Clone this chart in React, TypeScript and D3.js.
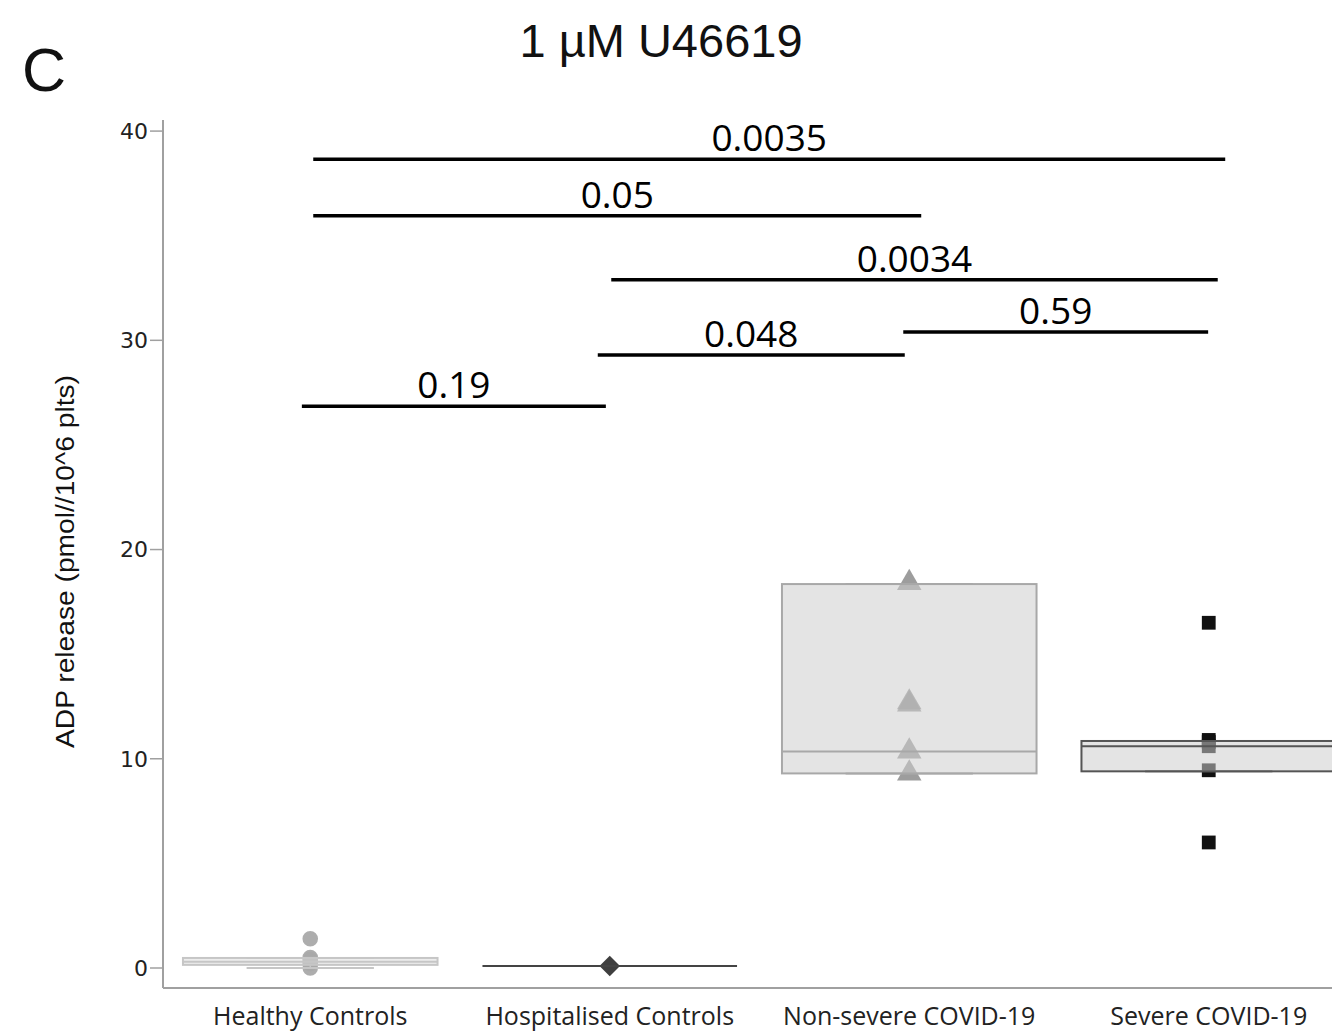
import React from "react";
import * as d3 from "d3";

const categories = ["Healthy Controls", "Hospitalised Controls", "Non-severe COVID-19", "Severe COVID-19"];
const healthyValues = [1.4, 0.5, 0.4, 0.3, 0.2, 0.0];
const hospitalisedValues = [0.1];
const nonSevereValues = [18.4, 12.7, 12.6, 10.35, 9.3];
const severeValues = [16.5, 10.9, 10.8, 10.6, 9.45, 6.0];

const boxQ1 = [0.15, 0.1, 9.3, 9.4];
const boxMedian = [0.3, 0.1, 10.35, 10.6];
const boxQ3 = [0.48, 0.1, 18.35, 10.85];
const whiskerLow = [0.0, 0.1, 9.3, 9.4];
const whiskerHigh = [0.48, 0.1, 18.35, 10.85];

const yTicks = [0, 10, 20, 30, 40];

// significance brackets: label, y value, start/end in category-index units
const sigLabels = ["0.0035", "0.05", "0.0034", "0.59", "0.048", "0.19"];
const sigY = [38.65, 35.95, 32.9, 30.4, 29.3, 26.85];
const sigStart = [0.01, 0.01, 1.005, 1.98, 0.96, -0.028];
const sigEnd = [3.055, 2.04, 3.03, 2.998, 1.985, 0.987];

const seriesValues = [healthyValues, hospitalisedValues, nonSevereValues, severeValues];
const markerShapes = [d3.symbolCircle, d3.symbolSquare, d3.symbolTriangle, d3.symbolSquare];
const markerRotate = [0, 45, 0, 0];
const markerSizes = [190, 210, 260, 190];
const markerFill = ["#a9a9a9", "#3f3f3f", "#8c8c8c", "#111111"];
const markerOpacity = [0.95, 1, 0.85, 1];
const boxFill = ["rgba(220,220,220,0.5)", "none", "rgba(205,205,205,0.55)", "rgba(205,205,205,0.55)"];
const boxStroke = ["#c6c6c6", "#444444", "#a8a8a8", "#555555"];

export default function App() {
  const W = 1332, H = 1032;
  const axisX = 163, axisBottom = 988, axisTop = 120;
  const y = d3.scaleLinear().domain([-0.956, 40.53]).range([axisBottom, axisTop]);
  const x = d3.scaleBand().domain(categories).range([160.5, 160.5 + 4 * 299.5]).padding(0);
  const step = x.step();
  const idx = d3.scaleLinear().domain([0, 1]).range([x(categories[0])! + step / 2, x(categories[0])! + step * 1.5]);
  const boxW = step * 0.85;
  const capW = boxW / 2;

  return (
    <div style={{ position: "fixed", left: 0, top: 0, background: "#fff" }}>
      <svg width={W} height={H} style={{ display: "block", background: "#fff" }}>
        <text x={22} y={91} fontFamily="Liberation Sans, Arial, sans-serif" fontSize={61} fill="#111">C</text>
        <text x={661} y={57} textAnchor="middle" fontFamily="Liberation Sans, Arial, sans-serif" fontSize={47} fill="#111">1 µM U46619</text>

        {/* axes */}
        <line x1={axisX} x2={axisX} y1={axisTop} y2={axisBottom} stroke="#a0a0a0" strokeWidth={2} />
        <line x1={axisX} x2={W} y1={axisBottom} y2={axisBottom} stroke="#a0a0a0" strokeWidth={2} />
        {yTicks.map((t) => (
          <g key={t}>
            <line x1={axisX - 13} x2={axisX} y1={y(t)} y2={y(t)} stroke="#a0a0a0" strokeWidth={1.5} />
            <text x={axisX - 15} y={y(t)} dy="0.36em" textAnchor="end" fontFamily="DejaVu Sans, sans-serif" fontSize={22} fill="#222">{t}</text>
          </g>
        ))}
        <text transform={`translate(74,${(375 + 748) / 2}) rotate(-90)`} textAnchor="middle" fontFamily="Liberation Sans Narrow, Liberation Sans, sans-serif" fontSize={26} fill="#111" textLength={373} lengthAdjust="spacingAndGlyphs">ADP release (pmol//10^6 plts)</text>
        {categories.map((c) => (
          <text key={c} x={x(c)! + step / 2} y={1025} textAnchor="middle" fontFamily="Open Sans, sans-serif" fontSize={25} fill="#222">{c}</text>
        ))}

        {/* points */}
        {seriesValues.map((vals, i) => {
          const cx = x(categories[i])! + step / 2;
          const path = d3.symbol().type(markerShapes[i]).size(markerSizes[i])()!;
          return vals.map((v, j) => (
            <path key={`${i}-${j}`} d={path} transform={`translate(${cx},${y(v)}) rotate(${markerRotate[i]})`} fill={markerFill[i]} opacity={markerOpacity[i]} />
          ));
        })}

        {/* boxes */}
        {categories.map((c, i) => {
          const cx = x(c)! + step / 2;
          const left = cx - boxW / 2;
          return (
            <g key={c}>
              <line x1={cx - capW / 2} x2={cx + capW / 2} y1={y(whiskerHigh[i])} y2={y(whiskerHigh[i])} stroke={boxStroke[i]} strokeWidth={2} />
              <line x1={cx - capW / 2} x2={cx + capW / 2} y1={y(whiskerLow[i])} y2={y(whiskerLow[i])} stroke={boxStroke[i]} strokeWidth={2} />
              <line x1={cx} x2={cx} y1={y(whiskerHigh[i])} y2={y(boxQ3[i])} stroke={boxStroke[i]} strokeWidth={1.5} />
              <line x1={cx} x2={cx} y1={y(whiskerLow[i])} y2={y(boxQ1[i])} stroke={boxStroke[i]} strokeWidth={1.5} />
              <rect x={left} width={boxW} y={y(boxQ3[i])} height={Math.max(0, y(boxQ1[i]) - y(boxQ3[i]))} fill={boxFill[i]} stroke={boxStroke[i]} strokeWidth={2} />
              <line x1={left} x2={left + boxW} y1={y(boxMedian[i])} y2={y(boxMedian[i])} stroke={boxStroke[i]} strokeWidth={2} />
            </g>
          );
        })}

        {/* significance */}
        {sigLabels.map((lab, i) => (
          <g key={lab}>
            <line x1={idx(sigStart[i])} x2={idx(sigEnd[i])} y1={y(sigY[i])} y2={y(sigY[i])} stroke="#000" strokeWidth={3.5} />
            <text x={(idx(sigStart[i]) + idx(sigEnd[i])) / 2} y={y(sigY[i]) - 8} textAnchor="middle" fontFamily="Open Sans, sans-serif" fontSize={37} fill="#000">{lab}</text>
          </g>
        ))}
      </svg>
    </div>
  );
}
